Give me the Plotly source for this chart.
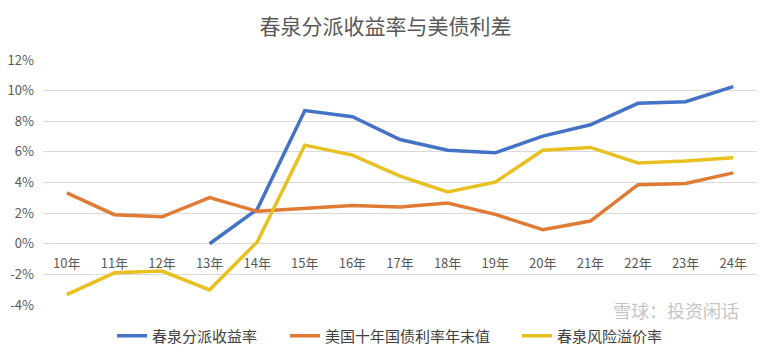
import plotly.graph_objects as go

categories = ["10年", "11年", "12年", "13年", "14年", "15年", "16年", "17年",
              "18年", "19年", "20年", "21年", "22年", "23年", "24年"]
dividend_yield = [None, None, None, 0.0, 2.25, 8.70, 8.30, 6.81, 6.11, 5.94,
                  7.03, 7.77, 9.17, 9.28, 10.26]
us10y = [3.32, 1.90, 1.76, 3.01, 2.12, 2.29, 2.49, 2.40, 2.66, 1.92,
         0.92, 1.48, 3.86, 3.93, 4.63]
risk_premium = [-3.32, -1.90, -1.78, -3.01, 0.12, 6.44, 5.79, 4.41, 3.38, 4.02,
                6.11, 6.29, 5.28, 5.41, 5.61]
names = ["春泉分派收益率", "美国十年国债利率年末值", "春泉风险溢价率"]
colors = ["#4472C4", "#E07B36", "#E8C020"]
ytick_vals = [-4, -2, 0, 2, 4, 6, 8, 10, 12]
ytick_text = [f"{v}%" for v in ytick_vals]

FONT = "Noto Sans CJK SC"
W, H = 771, 353

fig = go.Figure()
series = [dividend_yield, us10y, risk_premium]
legend_ids = ["legend", "legend2", "legend3"]
for s, n, c, lg in zip(series, names, colors, legend_ids):
    fig.add_trace(go.Scatter(
        x=categories, y=s, name=n, mode="lines",
        line=dict(color=c, width=3.5),
        connectgaps=False, legend=lg,
    ))

leg_common = dict(orientation="h", xref="container", yref="container",
                  yanchor="middle", y=1 - 336 / H, xanchor="left",
                  font=dict(family=FONT, size=15, color="#404040"),
                  bgcolor="rgba(0,0,0,0)", borderwidth=0)

fig.update_layout(
    width=W, height=H,
    margin=dict(l=43, r=14, t=60, b=48, autoexpand=False),
    paper_bgcolor="white", plot_bgcolor="white",
    title=dict(text="春泉分派收益率与美债利差", x=0.5, xref="container",
               xanchor="center", y=1 - 27 / H, yanchor="middle",
               font=dict(family=FONT, size=21, color="#595959")),
    font=dict(family=FONT, color="#595959"),
    xaxis=dict(type="category", anchor="free", position=0.25,
               range=[-0.5, 14.5], showgrid=False, showline=False,
               zeroline=False, ticks="", ticklabelstandoff=10,
               tickfont=dict(family=FONT, size=13, color="#595959")),
    yaxis=dict(range=[-4, 12], tickvals=ytick_vals, ticktext=ytick_text,
               showgrid=True, gridcolor="#D9D9D9", gridwidth=1,
               zeroline=False, showline=False, ticks="",
               ticklabelstandoff=8,
               tickfont=dict(family=FONT, size=13, color="#595959")),
    legend=dict(x=112 / W, **leg_common),
    legend2=dict(x=285 / W, **leg_common),
    legend3=dict(x=517 / W, **leg_common),
    showlegend=True,
)

fig.add_annotation(text="雪球：投资闲话", xref="paper", yref="paper",
                   x=(676 - 43) / 714, y=-(310 - 305) / 245,
                   xanchor="center", yanchor="middle", showarrow=False,
                   font=dict(family=FONT, size=18, color="rgba(170,170,170,0.7)"))

fig.write_html("out.html")
